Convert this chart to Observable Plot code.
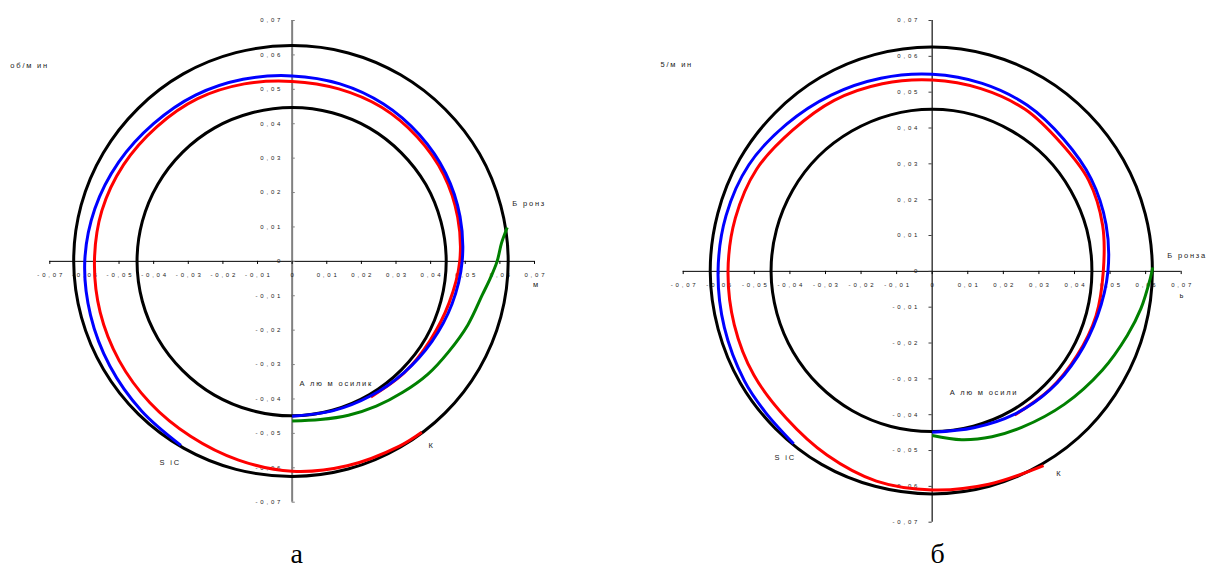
<!DOCTYPE html>
<html><head><meta charset="utf-8">
<script src="https://cdn.jsdelivr.net/npm/d3@7"></script>
<script src="https://cdn.jsdelivr.net/npm/@observablehq/plot@0.6"></script>
<style>
html,body{margin:0;padding:0;background:#fff;}
#wrap{position:relative;width:1209px;height:569px;overflow:hidden;}
#wrap svg{position:absolute;top:0;}
g[font-size="6"] text{letter-spacing:2.8px;}
g[font-size="7.5"] text{letter-spacing:1.8px;}
</style></head><body><div id="wrap"></div><script>
// ---- axis ticks ----
const axisTicks = [-0.07,-0.06,-0.05,-0.04,-0.03,-0.02,-0.01,0,0.01,0.02,0.03,0.04,0.05,0.06,0.07];
const axisTickLabels = ["-0,07","-0,06","-0,05","-0,04","-0,03","-0,02","-0,01","0","0,01","0,02","0,03","0,04","0,05","0,06","0,07"];

// ---- angles (degrees) of full circles ----
const circleAngles = [0,15,30,45,60,75,90,105,120,135,150,165,180,195,210,225,240,255,270,285,300,315,330,345];

// ---- panel а ----
const outerA = [0.0624,0.0624,0.0625,0.0625,0.0626,0.0627,0.0627,0.0628,0.0629,0.0629,0.0630,0.0631,0.0631,0.0630,0.0629,0.0628,0.0627,0.0626,0.0625,0.0625,0.0624,0.0624,0.0624,0.0624];
const innerA = [0.0445,0.0445,0.0446,0.0446,0.0447,0.0447,0.0447,0.0447,0.0448,0.0448,0.0448,0.0448,0.0448,0.0448,0.0448,0.0448,0.0449,0.0449,0.0449,0.0448,0.0447,0.0446,0.0446,0.0445];
const blueAnglesA = [-90,-75,-60,-45,-30,-15,0,15,30,45,60,75,90,105,120,135,150,165,180,195,210,225,239];
const blueA = [0.0450,0.0450,0.0452,0.0457,0.0466,0.0478,0.0491,0.0502,0.0512,0.0520,0.0528,0.0534,0.0539,0.0548,0.0558,0.0566,0.0578,0.0590,0.0599,0.0603,0.0608,0.0615,0.0624];
const redAnglesA = [-53,-60,-75,-90,-105,-120,-135,-150,-165,-180,-195,-210,-225,-240,-255,-270,-285,-300,-315,-330,-345,-360,-375,-390,-405,-420];
const redA = [0.0622,0.0620,0.0615,0.0610,0.0598,0.0587,0.0581,0.0577,0.0574,0.0571,0.0569,0.0562,0.0553,0.0546,0.0534,0.0523,0.0519,0.0517,0.0511,0.0505,0.0495,0.0484,0.0469,0.0460,0.0458,0.0455];
const greenAnglesA = [-90,-80,-70,-60,-50,-40,-30,-20,-10,-5,0,5,9];
const greenA = [0.0464,0.0467,0.0476,0.0486,0.0497,0.0511,0.0523,0.0540,0.0558,0.0574,0.0592,0.0607,0.0629];
const labelTextA = ["об/м ин","Б ронз","м","А лю м осилик","S iC","К"];
const labelXA = [-0.0814,0.0636,0.0703,0.0021,-0.0383,0.0400];
const labelYA = [0.0569,0.0168,-0.0067,-0.0355,-0.0585,-0.0535];
const labelAnchorA = ["start","start","middle","start","start","middle"];
const captionA = {text: "а", x: 0.0013, y: -0.0852};

// ---- panel б ----
const outerB = [0.0619,0.0620,0.0621,0.0622,0.0624,0.0625,0.0626,0.0626,0.0626,0.0625,0.0625,0.0624,0.0624,0.0623,0.0623,0.0622,0.0622,0.0621,0.0621,0.0621,0.0620,0.0620,0.0619,0.0619];
const innerB = [0.0449,0.0450,0.0450,0.0451,0.0451,0.0452,0.0452,0.0452,0.0452,0.0453,0.0453,0.0453,0.0453,0.0452,0.0451,0.0450,0.0449,0.0448,0.0447,0.0447,0.0448,0.0448,0.0449,0.0449];
const blueAnglesB = [-90,-75,-60,-45,-30,-15,0,15,30,45,60,75,90,105,120,135,150,165,180,195,210,220,231];
const blueB = [0.0449,0.0452,0.0461,0.0468,0.0473,0.0481,0.0494,0.0506,0.0516,0.0522,0.0535,0.0543,0.0550,0.0558,0.0568,0.0580,0.0595,0.0600,0.0602,0.0605,0.0610,0.0612,0.0619];
const redAnglesB = [-60,-75,-90,-105,-120,-135,-150,-165,-180,-195,-210,-225,-240,-255,-270,-285,-300,-315,-330,-345,-360,-375,-390,-405,-420];
const redB = [0.0626,0.0615,0.0610,0.0606,0.0592,0.0580,0.0579,0.0576,0.0574,0.0573,0.0570,0.0556,0.0551,0.0542,0.0534,0.0528,0.0522,0.0509,0.0508,0.0496,0.0481,0.0477,0.0470,0.0467,0.0463];
const greenAnglesB = [-90,-80,-70,-60,-45,-30,-18,-10,-2,1];
const greenB = [0.0458,0.0477,0.0491,0.0503,0.0525,0.0552,0.0577,0.0596,0.0613,0.0620];
const labelTextB = ["5/м ин","Б ронза","ь","А лю м осили","S iC","К"];
const labelXB = [-0.0764,0.0661,0.0701,0.0049,-0.0443,0.0355];
const labelYB = [0.0577,0.0044,-0.0067,-0.0338,-0.0519,-0.0564];
const labelAnchorB = ["start","start","middle","start","start","middle"];
const captionB = {text: "б", x: 0.0015, y: -0.0790};

function polar(angles, radii) {
  return angles.map((a, i) => ({x: radii[i] * Math.cos(a * Math.PI / 180), y: radii[i] * Math.sin(a * Math.PI / 180)}));
}
const tickData = axisTicks.map((v, i) => ({v, label: axisTickLabels[i]}));

function panel(cfg) {
  const sw = 3;
  const lineOpts = {x: "x", y: "y", strokeWidth: sw, strokeLinejoin: "round", strokeLinecap: "butt"};
  const labels = cfg.labelText.map((t, i) => ({t, x: cfg.labelX[i], y: cfg.labelY[i], a: cfg.labelAnchor[i]}));
  const svg = Plot.plot({
    width: cfg.width, height: 569,
    marginLeft: cfg.ml, marginRight: cfg.mr, marginTop: 20, marginBottom: cfg.mb,
    x: {domain: [-0.07, 0.07], axis: null},
    y: {domain: [-0.07, 0.07], axis: null},
    style: {background: "transparent", overflow: "visible", fontFamily: "Liberation Sans, Arial, sans-serif"},
    marks: [
      Plot.ruleY([0], {x1: -0.07, x2: 0.07, stroke: "#000", strokeWidth: 1}),
      Plot.ruleX([0], {y1: -0.07, y2: 0.07, stroke: cfg.vColor, strokeWidth: cfg.vWidth}),
      Plot.ruleY(axisTicks, {y: d => d, x1: 0, x2: cfg.yTickLen, stroke: cfg.vColor, strokeWidth: 1}),
      Plot.ruleX(axisTicks, {x: d => d, y1: 0, y2: -0.0009, stroke: "#000", strokeWidth: 1}),
      Plot.text(tickData, {x: 0, y: d => d.v, text: "label", textAnchor: "end", dx: cfg.yLabelDx, fontSize: 6, fill: "#222"}),
      Plot.text(tickData, {x: d => d.v, y: 0, text: "label", textAnchor: "middle", dx: 1.4, dy: cfg.xLabelDy, fontSize: 6, fill: "#222"}),
      Plot.line(polar(circleAngles, cfg.outer), {...lineOpts, curve: "catmull-rom-closed", stroke: "#000"}),
      Plot.line(polar(circleAngles, cfg.inner), {...lineOpts, curve: "catmull-rom-closed", stroke: "#000"}),
      Plot.line(polar(cfg.greenAngles, cfg.green), {...lineOpts, curve: "catmull-rom", stroke: "#008000"}),
      Plot.line(polar(cfg.redAngles, cfg.red), {...lineOpts, curve: "catmull-rom", stroke: "#ff0000"}),
      Plot.line(polar(cfg.blueAngles, cfg.blue), {...lineOpts, curve: "catmull-rom", stroke: "#0000ff"}),
      Plot.text(labels.filter(d => d.a === "start"), {x: "x", y: "y", text: "t", textAnchor: "start", fontSize: 7.5, fill: "#222"}),
      Plot.text(labels.filter(d => d.a === "middle"), {x: "x", y: "y", text: "t", textAnchor: "middle", dx: 0.9, fontSize: 7.5, fill: "#222"}),
      Plot.text([cfg.caption], {x: "x", y: "y", text: "text", fontSize: 28, fontFamily: "Liberation Serif, Times New Roman, serif", fill: "#000"})
    ]
  });
  svg.style.left = cfg.left + "px";
  return svg;
}

const wrap = document.getElementById("wrap");
wrap.appendChild(panel({
  left: 0, width: 600, ml: 49.3, mr: 66, mb: 67.3,
  vColor: "#808080", vWidth: 2, yTickLen: 0.0009, yLabelDx: -8.9, xLabelDy: 13.5,
  outer: outerA, inner: innerA,
  blueAngles: blueAnglesA, blue: blueA, redAngles: redAnglesA, red: redA, greenAngles: greenAnglesA, green: greenA,
  labelText: labelTextA, labelX: labelXA, labelY: labelYA, labelAnchor: labelAnchorA, caption: captionA
}));
wrap.appendChild(panel({
  left: 600, width: 609, ml: 82.7, mr: 28.3, mb: 47.3,
  vColor: "#404040", vWidth: 1.5, yTickLen: -0.0009, yLabelDx: -12, xLabelDy: 14,
  outer: outerB, inner: innerB,
  blueAngles: blueAnglesB, blue: blueB, redAngles: redAnglesB, red: redB, greenAngles: greenAnglesB, green: greenB,
  labelText: labelTextB, labelX: labelXB, labelY: labelYB, labelAnchor: labelAnchorB, caption: captionB
}));
</script></body></html>
